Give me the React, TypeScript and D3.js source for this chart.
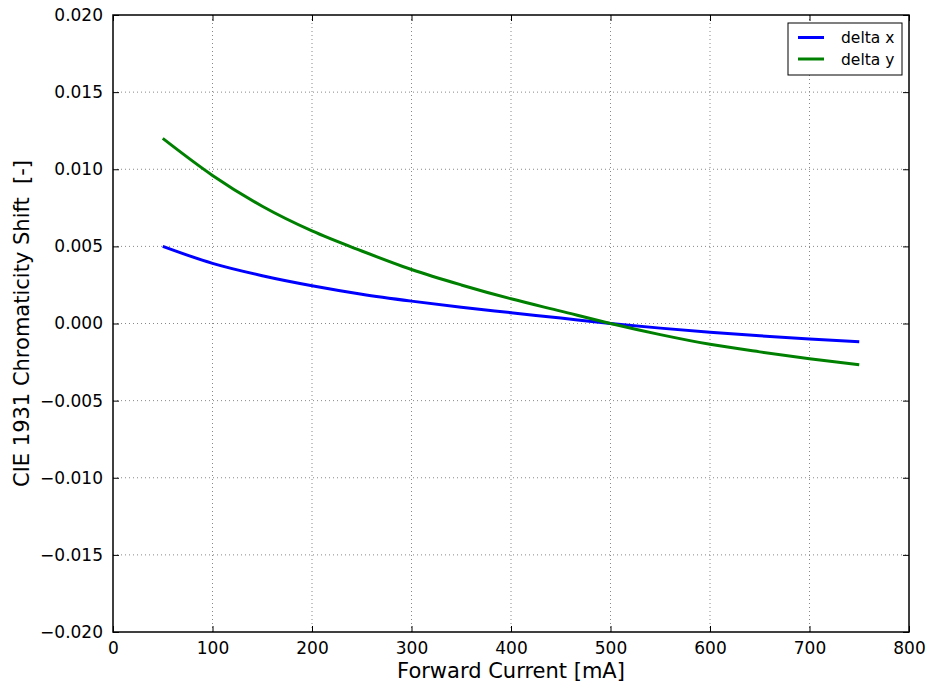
import React, { useEffect, useRef } from "react";
import * as d3 from "d3";

// forward current [mA]
const currents = [50, 100, 150, 200, 250, 300, 350, 400, 450, 500, 550, 600, 650, 700, 750];
// chromaticity shift values
const deltaX = [0.0050, 0.0039, 0.0031, 0.00245, 0.0019, 0.00145, 0.00105, 0.0007, 0.00035, 0.0, -0.0003, -0.00057, -0.0008, -0.001, -0.00118];
const deltaY = [0.0120, 0.0096, 0.0076, 0.0060, 0.0047, 0.0035, 0.0025, 0.0016, 0.0008, 0.0, -0.00072, -0.00135, -0.00184, -0.00228, -0.00268];

const xTicks = [0, 100, 200, 300, 400, 500, 600, 700, 800];
const yTicks = [-0.02, -0.015, -0.01, -0.005, 0, 0.005, 0.01, 0.015, 0.02];

const series = [
  { name: "delta x", values: deltaX, color: "#0000ff" },
  { name: "delta y", values: deltaY, color: "#008000" },
];

export default function App() {
  const ref = useRef<SVGSVGElement>(null);

  useEffect(() => {
    const W = 933, H = 688;
    const margin = { top: 15, right: 24, bottom: 56, left: 113 };
    const w = W - margin.left - margin.right;
    const h = H - margin.top - margin.bottom;

    const svg = d3.select(ref.current);
    svg.selectAll("*").remove();
    const g = svg.append("g").attr("transform", `translate(${margin.left},${margin.top})`);

    const x = d3.scaleLinear().domain([0, 800]).range([0, w]);
    const y = d3.scaleLinear().domain([-0.02, 0.02]).range([h, 0]);
    const font = "DejaVu Sans, sans-serif";

    // grid
    g.append("g").selectAll("line").data(xTicks.slice(1, -1)).join("line")
      .attr("x1", d => x(d)).attr("x2", d => x(d)).attr("y1", 0).attr("y2", h)
      .attr("stroke", "#888").attr("stroke-dasharray", "1,3");
    g.append("g").selectAll("line").data(yTicks.slice(1, -1)).join("line")
      .attr("y1", d => y(d)).attr("y2", d => y(d)).attr("x1", 0).attr("x2", w)
      .attr("stroke", "#888").attr("stroke-dasharray", "1,3");

    // lines
    const line = d3.line<number>()
      .x((_, i) => x(currents[i]))
      .y(d => y(d))
      .curve(d3.curveMonotoneX);
    series.forEach(s => {
      g.append("path").datum(s.values).attr("d", line)
        .attr("fill", "none").attr("stroke", s.color).attr("stroke-width", 3);
    });

    // axes, ticks pointing inward on all four sides
    const styleAxis = (sel: any) => {
      sel.select(".domain").remove();
      sel.selectAll("text").style("font-family", font).style("font-size", "17px").attr("fill", "#000");
      sel.selectAll("line").attr("stroke", "#000");
    };
    g.append("g").attr("transform", `translate(0,${h})`)
      .call(d3.axisBottom(x).tickValues(xTicks).tickSizeInner(-6).tickPadding(10).tickFormat(d3.format("d")))
      .call(styleAxis);
    g.append("g")
      .call(d3.axisLeft(y).tickValues(yTicks).tickSizeInner(-6).tickPadding(10).tickFormat(d3.format(".3f")))
      .call(styleAxis);
    g.append("g").attr("transform", `translate(${w},0)`)
      .call(d3.axisRight(y).tickValues(yTicks).tickSizeInner(-6).tickFormat(() => ""))
      .call(styleAxis);
    g.append("g")
      .call(d3.axisTop(x).tickValues(xTicks).tickSizeInner(-6).tickFormat(() => ""))
      .call(styleAxis);

    g.append("rect").attr("width", w).attr("height", h)
      .attr("fill", "none").attr("stroke", "#000").attr("stroke-width", 1.5);

    // axis labels
    g.append("text").attr("x", w / 2).attr("y", h + 46).attr("text-anchor", "middle")
      .style("font-family", font).style("font-size", "21px").text("Forward Current [mA]");
    g.append("text").attr("transform", `translate(${-84},${h / 2}) rotate(-90)`).attr("text-anchor", "middle")
      .style("font-family", font).style("font-size", "21px").style("white-space", "pre")
      .text("CIE 1931 Chromaticity Shift  [-]");

    // legend
    const lg = g.append("g").attr("transform", `translate(${w - 121},8)`);
    lg.append("rect").attr("width", 114).attr("height", 52)
      .attr("fill", "#fff").attr("stroke", "#000").attr("stroke-width", 1);
    series.forEach((s, i) => {
      const yy = 14.5 + i * 21.5;
      lg.append("line").attr("x1", 10).attr("x2", 36).attr("y1", yy).attr("y2", yy)
        .attr("stroke", s.color).attr("stroke-width", 3);
      lg.append("text").attr("x", 53).attr("y", yy + 5.5)
        .style("font-family", font).style("font-size", "15.5px").text(s.name);
    });
  }, []);

  return (
    <svg ref={ref} width={933} height={688}
      style={{ position: "absolute", left: 0, top: 0, background: "#fff" }} />
  );
}
